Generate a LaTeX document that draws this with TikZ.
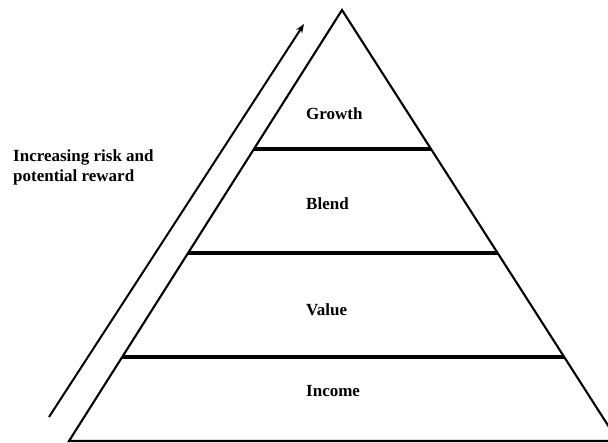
\documentclass[tikz,border=0pt]{standalone}
\usepackage{fontspec}
\setmainfont{Liberation Serif}
\usetikzlibrary{calc,arrows.meta}
\tikzset{
  side/.style={line width=2.1pt,black},
  divider/.style={line width=3.2pt,black},
  label/.style={font=\bfseries\fontsize{17}{20}\selectfont,inner sep=0pt,anchor=base west},
  riskarrow/.style={line width=2pt,-{Stealth[length=9pt,width=7pt]}}
}
\begin{document}
\begin{tikzpicture}[x=1pt,y=-1pt]
\useasboundingbox (0,0) rectangle (608,443);
\clip (0,0) rectangle (608,443);
\coordinate (apex) at (342,10);
\coordinate (bl) at (69,441);
\coordinate (br) at (618,441);
\coordinate (l1) at ($(apex)!0.3225!(bl)$);
\coordinate (r1) at ($(apex)!0.3225!(br)$);
\coordinate (l2) at ($(apex)!0.5638!(bl)$);
\coordinate (r2) at ($(apex)!0.5638!(br)$);
\coordinate (l3) at ($(apex)!0.8051!(bl)$);
\coordinate (r3) at ($(apex)!0.8051!(br)$);
\draw[side,line join=miter] (apex) -- (bl) -- (br) -- cycle;
\draw[divider] (l1) -- (r1);
\draw[divider] (l2) -- (r2);
\draw[divider] (l3) -- (r3);
\node[label] (growth) at (306,120) {Growth};
\node[label] (blend) at (306,210) {Blend};
\node[label] (value) at (306,316) {Value};
\node[label] (income) at (306,397) {Income};
\node[label,align=left] (risk) at (13,182) {Increasing risk and\\potential reward};
\coordinate (tail) at (49,417);
\coordinate (head) at (304,24);
\draw[riskarrow] (tail) -- (head);
\end{tikzpicture}
\end{document}
